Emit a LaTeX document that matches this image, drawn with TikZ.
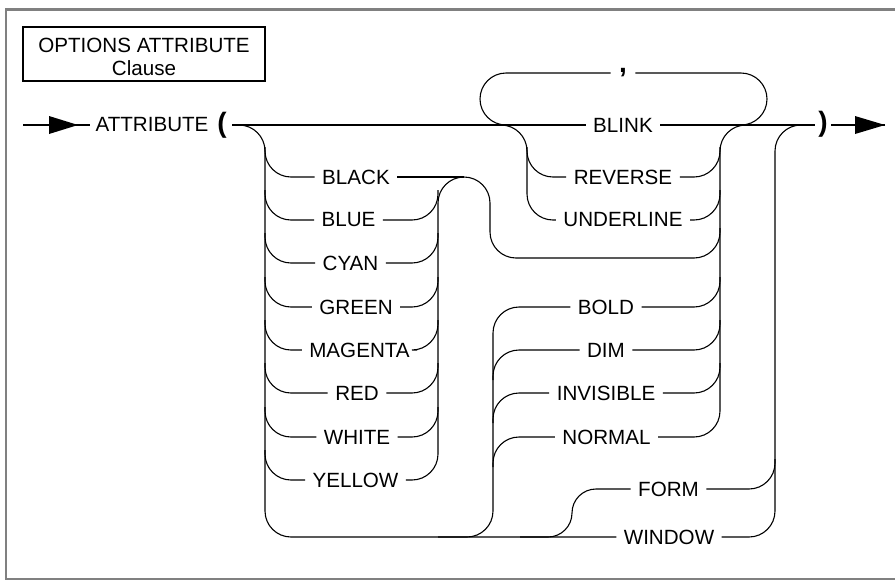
\documentclass[tikz,border=0pt]{standalone}
\usepackage{fontspec}
\setmainfont{Liberation Sans}
\begin{document}
\begin{tikzpicture}[x=0.5pt,y=-0.5pt, line width=0.55pt,
  rc/.style={rounded corners=13pt},
  lbl/.style={inner xsep=3.5pt, inner ysep=1pt, font=\fontsize{10.3}{12}\selectfont},
  paren/.style={font=\fontsize{14}{14}\selectfont\bfseries},
  frame/.style={draw=black!50, line width=1.25pt}
]
\useasboundingbox (0,0) rectangle (895,580);
% frame
\draw[frame] (905,9.7) -- (6.2,9.7) -- (6.2,579) -- (905,579);
% title
\node[draw, line width=1pt, minimum width=121pt, minimum height=27pt, inner sep=0pt] (title) at (144,54) {};
\node[align=center, inner sep=0pt, font=\fontsize{10.3}{11.5}\selectfont] (titletext) at (144,57) {OPTIONS ATTRIBUTE\\Clause};

% start
\coordinate (start) at (23,125);
\node[inner sep=2.5pt, font=\fontsize{10.3}{12}\selectfont] (attr) at (152,125) {ATTRIBUTE};
\node[paren, inner sep=2.5pt] (lparen) at (222,125) {(};
\draw (start) -- (attr.west);
\fill (49,116) -- (78,125) -- (49,134) -- cycle;

% labels
\node[lbl] (black)   at (356,177) {BLACK};
\node[lbl] (blue)    at (348.5,220) {BLUE};
\node[lbl] (cyan)    at (350.5,263) {CYAN};
\node[lbl] (green)   at (356,307) {GREEN};
\node[lbl] (magenta) at (359.5,350) {MAGENTA};
\node[lbl] (red)     at (357,393) {RED};
\node[lbl] (white)   at (357,437) {WHITE};
\node[lbl] (yellow)  at (355.5,480) {YELLOW};
\node[lbl] (blink)     at (623,125) {BLINK};
\node[lbl] (reverse)   at (623,177) {REVERSE};
\node[lbl] (underline) at (623,220) {UNDERLINE};
\node[lbl] (bold)      at (606,307) {BOLD};
\node[lbl] (dim)       at (606,350) {DIM};
\node[lbl] (invisible) at (606,393) {INVISIBLE};
\node[lbl] (normal)    at (606.5,437) {NORMAL};
\node[lbl] (form)      at (668.5,489) {FORM};
\node[lbl] (window)    at (669,537) {WINDOW};
\node[inner xsep=4pt, inner ysep=0pt, font=\fontsize{14}{14}\selectfont\bfseries] (comma) at (623,73) {,};
\node[paren, inner sep=1.5pt] (rparen) at (823,124) {)};
\coordinate (end) at (885,125);

% main line
\draw (lparen.east |- 0,125) -- (blink.west);
\draw (blink.east) -- (rparen.west |- 0,125);
\draw (rparen.east |- 0,125) -- (end);
\fill (855,116) -- (885,125) -- (855,134) -- cycle;

% colour group: left rail and bottom line
\draw[rc] (lparen.east |- 0,125) -| (265,537) -- (window.west);
\draw[rc] (265,147) |- (black.west);
\draw[rc] (265,190) |- (blue.west);
\draw[rc] (265,233) |- (cyan.west);
\draw[rc] (265,277) |- (green.west);
\draw[rc] (265,320) |- (magenta.west);
\draw[rc] (265,363) |- (red.west);
\draw[rc] (265,407) |- (white.west);
\draw[rc] (265,450) |- (yellow.west);
% colour group: right rail
\draw (black.east) -- (464,177);
\draw[rc] (blue.east) -| (438,190);
\draw[rc] (cyan.east) -| (438,233);
\draw[rc] (green.east) -| (438,277);
\draw[rc] (magenta.east) -| (438,320);
\draw[rc] (red.east) -| (438,363);
\draw[rc] (white.east) -| (438,407);
\draw[rc] (yellow.east) -| (438,177) -- (490,177) |- (720,258) -- (720,228);

% blink group
\draw[rc] (498,125) -| (527,220) -- (underline.west);
\draw[rc] (527,147) |- (reverse.west);
\draw[rc] (reverse.east) -| (720,147);
\draw[rc] (underline.east) -| (720,190);
% comma loop
\draw[rc] (comma.west) -| (480,125) -- (510,125);
\draw[rc] (comma.east) -| (767,125) -- (738,125);

% right rail of blink / bold groups
\draw[rc] (normal.east) -| (720,125) -- (750,125);
\draw[rc] (bold.east) -| (720,277);
\draw[rc] (dim.east) -| (720,320);
\draw[rc] (invisible.east) -| (720,363);

% bold group left rail
\draw[rc] (438,537) -| (493,307) -- (bold.west);
\draw[rc] (493,380) |- (dim.west);
\draw[rc] (493,423) |- (invisible.west);
\draw[rc] (493,467) |- (normal.west);

% form / window
\draw[rounded corners=12pt] (520,537) -| (572,489) -- (form.west);
\draw[rc] (form.east) -| (775,459);
\draw[rc] (window.east) -| (775,125) -- (805,125);
\end{tikzpicture}
\end{document}
